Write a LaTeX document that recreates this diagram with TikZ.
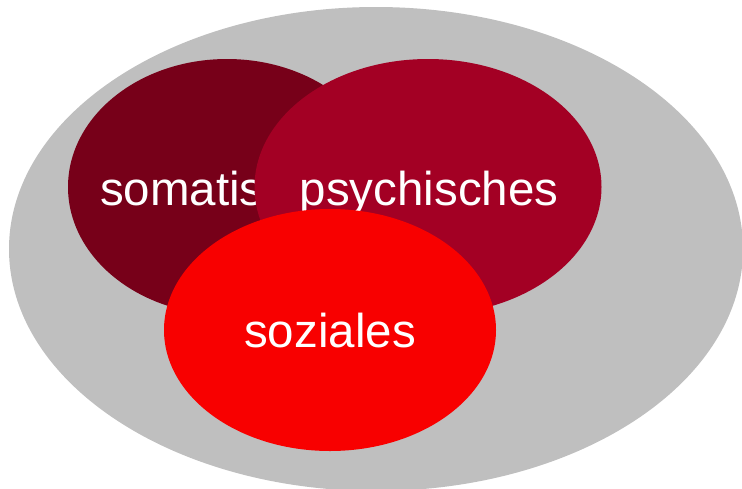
\documentclass[tikz,border=0pt]{standalone}
\usepackage{fontspec}
\setmainfont{Liberation Sans}
\usetikzlibrary{shapes.geometric}
\definecolor{bggray}{RGB}{191,191,191}
\definecolor{soma}{RGB}{119,0,25}
\definecolor{psych}{RGB}{163,0,36}
\definecolor{sozial}{RGB}{248,0,0}
\tikzset{
  blob/.style={ellipse, draw=none, inner sep=0pt},
  lbl/.style={text=white, anchor=base, inner sep=0pt,
    font=\fontsize{47.5}{56}\selectfont}
}
\begin{document}
\begin{tikzpicture}[x=1pt,y=-1pt]
\useasboundingbox (0,0) rectangle (742,488);
\node[blob, fill=bggray, minimum width=734pt, minimum height=484pt] (bg) at (376,249) {};
\node[blob, fill=soma, minimum width=318pt, minimum height=256pt] (somaE) at (227,187) {};
\node[lbl] (somaT) at (232,205) {somatisches};
\node[blob, fill=psych, minimum width=347pt, minimum height=256pt] (psychE) at (428,187) {};
\node[lbl] (psychT) at (429,205) {psychisches};
\node[blob, fill=sozial, minimum width=332pt, minimum height=242pt] (sozE) at (330,330) {};
\node[lbl] (sozT) at (330,347) {soziales};
\end{tikzpicture}
\end{document}
